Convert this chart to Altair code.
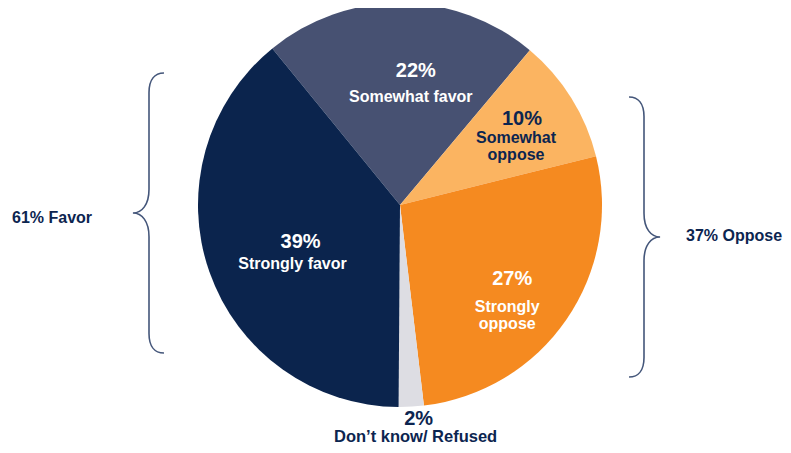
import math
import json
import altair as alt
import pandas as pd

# ---- data ----
categories = ["Somewhat favor", "Somewhat oppose", "Strongly oppose", "Don’t know/ Refused", "Strongly favor"]
label_text = ["Somewhat favor", "Somewhat\noppose", "Strongly\noppose", "Don’t know/ Refused", "Strongly favor"]
values = [22, 10, 27, 2, 39]
colors = ["#475172", "#FBB461", "#F58A20", "#DDDDE3", "#0B244D"]
text_colors = ["white", "#0C2550", "white", "#0C2550", "white"]
group_labels = ["61% Favor", "37% Oppose"]

NAVY = "#0C2550"
FONT = "Liberation Sans"

df = pd.DataFrame({"cat": categories, "name": label_text, "value": values, "idx": list(range(len(values)))})
df["pct"] = df["value"].astype(str) + "%"

start = math.radians(-39.2)
theta_scale = alt.Scale(domain=[0, 100], range=[start, start + 2 * math.pi])
CX, CY, R = 392, 197, 202

theta = alt.Theta("value:Q", stack=True, scale=theta_scale)
order = alt.Order("idx:Q")

arcs = alt.Chart(df).mark_arc(outerRadius=R).encode(
    theta=theta,
    order=order,
    color=alt.Color("cat:N", scale=alt.Scale(domain=categories, range=colors), legend=None),
    x=alt.value(CX),
    y=alt.value(CY),
)

# label placement per slice: radius, pct dx/dy, name dx/dy
place = {
    "Somewhat favor": (115, 15, -13, 10, 12),
    "Somewhat oppose": (125, 16, -14, 10, 4),
    "Strongly oppose": (140, -3, 1, -8, 28),
    "Don’t know/ Refused": (190, 8, 30, 5, 47),
    "Strongly favor": (115, 9, 5, 1, 26),
}


def label_layer(cat, field, r, dx, dy, size, color):
    return alt.Chart(df).transform_calculate(
        t=f"datum.cat === {json.dumps(cat)} ? datum.{field} : ''"
    ).mark_text(
        radius=r, dx=dx, dy=dy, fontSize=size, fontWeight="bold", font=FONT,
        color=color, align="center", baseline="alphabetic", lineBreak="\n", lineHeight=17,
    ).encode(
        theta=theta,
        order=order,
        detail="cat:N",
        text="t:N",
        x=alt.value(CX),
        y=alt.value(CY),
    )


layers = [arcs]
for i, cat in enumerate(categories):
    r, pdx, pdy, ndx, ndy = place[cat]
    col = text_colors[i]
    layers.append(label_layer(cat, "pct", r, pdx, pdy, 20, col))
    name_size = 16.5 if i == 3 else 16
    layers.append(label_layer(cat, "name", r, ndx, ndy, name_size, col))

left_brace = ("M0.107,-1 C0.04,-1 0,-0.95 0,-0.86 L0,-0.17 C0,-0.06 -0.05,0 -0.115,0 "
              "C-0.05,0 0,0.06 0,0.17 L0,0.86 C0,0.95 0.04,1 0.107,1")
right_brace = ("M-0.107,-1 C-0.04,-1 0,-0.95 0,-0.86 L0,-0.17 C0,-0.06 0.05,0 0.115,0 "
               "C0.05,0 0,0.06 0,0.17 L0,0.86 C0,0.95 -0.04,1 -0.107,1")

one = pd.DataFrame({"k": [0]})
BRACE_COLOR = "#44567A"
brace_l = alt.Chart(one).mark_point(
    shape=left_brace, size=280 * 280, filled=False, stroke=BRACE_COLOR, strokeWidth=1.6, opacity=1
).encode(x=alt.value(141), y=alt.value(205))
brace_r = alt.Chart(one).mark_point(
    shape=right_brace, size=280 * 280, filled=False, stroke=BRACE_COLOR, strokeWidth=1.6, opacity=1
).encode(x=alt.value(636), y=alt.value(229))

grp_l = alt.Chart(pd.DataFrame({"t": [group_labels[0]]})).mark_text(
    align="left", baseline="alphabetic", fontSize=16, fontWeight="bold", color=NAVY, font=FONT
).encode(text="t:N", x=alt.value(4), y=alt.value(215))
grp_r = alt.Chart(pd.DataFrame({"t": [group_labels[1]]})).mark_text(
    align="left", baseline="alphabetic", fontSize=16, fontWeight="bold", color=NAVY, font=FONT
).encode(text="t:N", x=alt.value(678), y=alt.value(233))

layers += [brace_l, brace_r, grp_l, grp_r]

chart = alt.layer(*layers).properties(
    width=775, height=437, padding=0, background="white",
    autosize=alt.AutoSizeParams(type="none"),
).configure_view(stroke=None)

chart.save("out.html", embed_options={"renderer": "svg", "actions": False})
